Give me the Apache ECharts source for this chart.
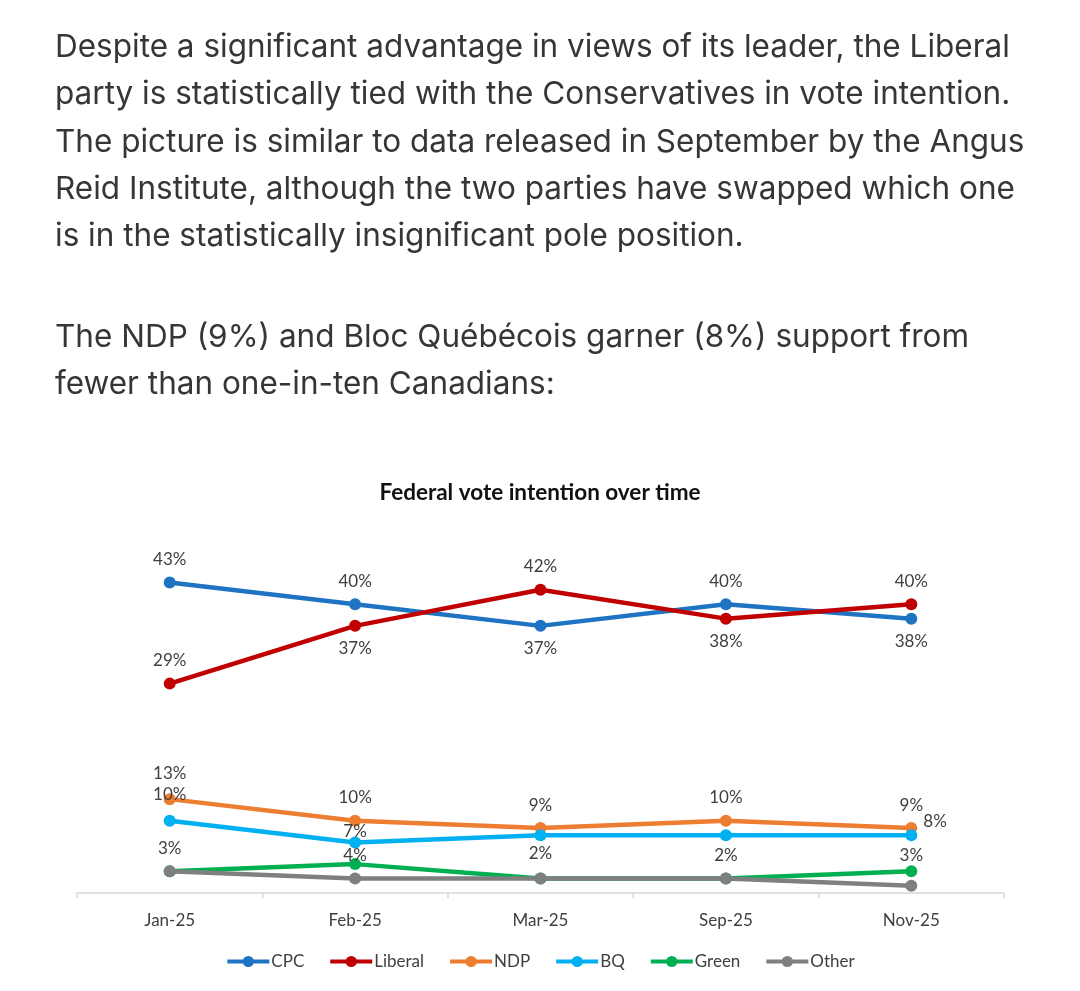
<!DOCTYPE html>
<html>
<head>
<meta charset="utf-8">
<script src="https://cdn.jsdelivr.net/npm/echarts@6/dist/echarts.min.js"></script>
<style>
  html, body { margin: 0; padding: 0; background: #fff; }
  #wrap { position: relative; width: 1080px; height: 991px; overflow: hidden; }
  #chart { position: absolute; left: 0; top: 0; width: 1080px; height: 991px; }
  .para { position: absolute; left: 55px; font-family: Inter, Roboto, "Noto Sans", sans-serif; font-size: 31.5px; line-height: 47.3px; color: #363636; white-space: nowrap; z-index: 2; }
</style>
</head>
<body>
<div id="wrap">
  <div id="chart"></div>
  <div class="para" style="top:22px;">Despite a significant advantage in views of its leader, the Liberal<br>party is statistically tied with the Conservatives in vote intention.<br>The picture is similar to data released in September by the Angus<br>Reid Institute, although the two parties have swapped which one<br>is in the statistically insignificant pole position.</div>
  <div class="para" style="top:312px;">The NDP (9%) and Bloc Québécois garner (8%) support from<br>fewer than one-in-ten Canadians:</div>
</div>
<script>
// ---- data ----
const categories = ['Jan-25', 'Feb-25', 'Mar-25', 'Sep-25', 'Nov-25'];
const seriesNames = ['CPC', 'Liberal', 'NDP', 'BQ', 'Green', 'Other'];
const cpc = [43, 40, 37, 40, 38];
const liberal = [29, 37, 42, 38, 40];
const ndp = [13, 10, 9, 10, 9];
const bq = [10, 7, 8, 8, 8];
const green = [3, 4, 2, 2, 3];
const other = [3, 2, 2, 2, 1];
const chartTitle = 'Federal vote intention over time';

// ---- styling (kept separate from data) ----
const colors = ['#1F73C3', '#C00000', '#ED7D31', '#00B0F0', '#00B050', '#7F7F7F'];
const labelFont = 'Lato, "Noto Sans", sans-serif';
// per-point label placement: [position, offsetY] or null for no label
const labelLayout = {
  CPC:     [['top', 0], ['top', 0], ['bottom', 0], ['top', 0], ['bottom', 0]],
  Liberal: [['top', 0], ['bottom', 0], ['top', 0], ['bottom', 0], ['top', 0]],
  NDP:     [['top', -3], ['top', 0], ['top', 0], ['top', 0], ['top', 0]],
  BQ:      [['top', -3], ['top', 12], null, null, ['right', -14]],
  Green:   [['top', 0], ['top', 14], ['top', -2], ['top', 0], ['top', 7]],
  Other:   [null, null, null, null, null]
};
const allValues = [cpc, liberal, ndp, bq, green, other];

const chart = echarts.init(document.getElementById('chart'), null, { renderer: 'canvas' });

const series = seriesNames.map(function (name, si) {
  const vals = allValues[si];
  return {
    name: name,
    type: 'line',
    symbol: 'circle',
    symbolSize: 12,
    lineStyle: { width: 4.5, color: colors[si] },
    itemStyle: { color: colors[si] },
    emphasis: { disabled: true },
    data: vals.map(function (v, i) {
      const lay = labelLayout[name][i];
      if (!lay) return { value: v, label: { show: false } };
      return {
        value: v,
        label: {
          show: true,
          position: lay[0],
          distance: lay[0] === 'right' ? 6 : 8.5,
          offset: [0, lay[1]],
          formatter: v + '%',
          color: '#404040',
          fontSize: 17,
          fontFamily: labelFont
        }
      };
    })
  };
});

chart.setOption({
  animation: false,
  backgroundColor: '#ffffff',
  color: colors,
  title: {
    text: chartTitle,
    left: 'center',
    top: 476,
    textStyle: { fontFamily: labelFont, fontSize: 22.5, fontWeight: 'bold', color: '#111' }
  },
  legend: {
    data: seriesNames,
    left: 'center',
    top: 948,
    itemWidth: 42,
    itemHeight: 14,
    itemGap: 24,
    lineStyle: { width: 4 },
    textStyle: { fontFamily: labelFont, fontSize: 17, color: '#404040', padding: [0, 0, 0, -3] }
  },
  grid: { left: 77, right: 76, top: 532, bottom: 98 },
  xAxis: {
    type: 'category',
    data: categories,
    boundaryGap: true,
    axisLine: { lineStyle: { color: '#D9D9D9', width: 1.5 } },
    axisTick: { show: true, length: 5, lineStyle: { color: '#D9D9D9', width: 1.5 } },
    axisLabel: { color: '#404040', fontSize: 17, fontFamily: labelFont, margin: 19 },
    splitLine: { show: false }
  },
  yAxis: {
    type: 'value',
    min: 0,
    max: 50,
    show: false,
    splitLine: { show: false }
  },
  series: series
});
</script>
</body>
</html>
